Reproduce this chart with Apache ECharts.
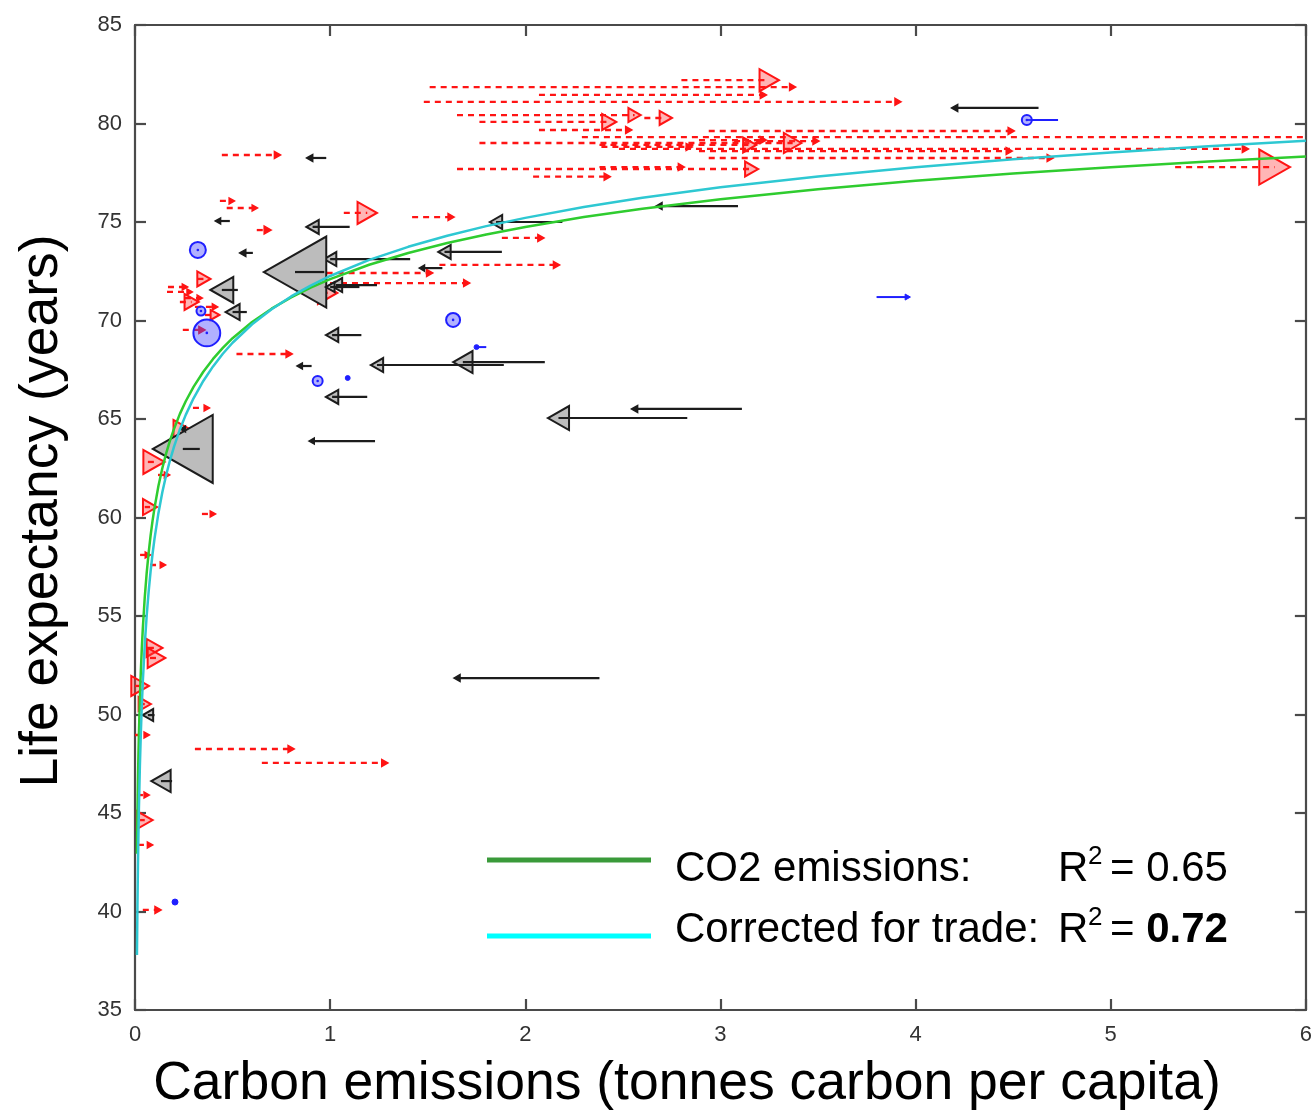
<!DOCTYPE html>
<html><head><meta charset="utf-8">
<script src="https://cdn.jsdelivr.net/npm/echarts@6/dist/echarts.min.js"></script>
<style>html,body{margin:0;padding:0;background:#fff}#c{width:1315px;height:1114px}</style>
</head><body><div id="c"></div>
<script>
// ---- Axis ranges / ticks ----
const xRange = [0, 6], xStep = 1;
const yRange = [35, 85], yStep = 5;

// ---- Net importers (red dashed): [production, consumption, life expectancy, population (M)] ----
const redArrows = [
  [2.80, 3.25, 82.2, 121], [1.51, 3.37, 81.85, 12], [2.07, 3.22, 81.45, 12], [1.48, 3.91, 81.1, 12],
  [1.65, 2.56, 80.43, 49], [2.61, 2.72, 80.28, 49], [1.765, 2.43, 80.08, 64], [2.07, 2.53, 79.67, 12],
  [2.94, 4.49, 79.62, 12], [2.29, 6.1, 79.31, 12], [2.89, 3.22, 79.16, 12], [3.07, 3.49, 79.11, 12],
  [1.765, 3.37, 79.01, 100], [2.38, 3.15, 78.91, 56], [2.39, 2.84, 78.81, 12], [2.48, 5.69, 78.71, 12],
  [2.89, 4.48, 78.6, 12], [2.94, 4.69, 78.25, 12], [1.65, 3.16, 77.69, 56], [2.38, 2.80, 77.79, 12],
  [2.04, 2.42, 77.3, 12], [5.33, 5.84, 77.79, 306], [0.445, 0.73, 78.4, 12], [0.435, 0.496, 76.07, 9],
  [0.47, 0.614, 75.71, 9], [1.07, 1.19, 75.46, 121], [1.42, 1.62, 75.25, 12], [0.624, 0.68, 74.59, 16],
  [1.88, 2.08, 74.19, 12], [1.56, 2.16, 72.82, 12], [0.70, 1.51, 72.41, 12], [0.83, 1.70, 71.9, 12],
  [0.844, 0.987, 71.4, 121], [0.32, 0.353, 72.11, 56], [0.169, 0.256, 71.7, 9], [0.164, 0.28, 71.45, 9],
  [0.23, 0.29, 70.94, 64], [0.256, 0.332, 71.14, 9], [0.307, 0.41, 70.69, 9], [0.358, 0.41, 70.28, 25],
  [0.245, 0.343, 69.52, 12], [0.52, 0.79, 68.3, 12], [0.297, 0.368, 65.56, 9], [0.22, 0.256, 64.29, 169],
  [0.066, 0.097, 62.82, 144], [0.118, 0.164, 62.16, 9], [0.05, 0.077, 60.53, 64], [0.343, 0.399, 60.18, 9],
  [0.026, 0.066, 58.1, 9], [0.077, 0.143, 57.59, 9], [0.066, 0.10, 53.38, 81], [0.077, 0.11, 52.87, 100],
  [0.0, 0.026, 51.45, 100], [0.026, 0.05, 50.53, 49], [0.0, 0.06, 48.96, 9], [0.307, 0.80, 48.25, 12],
  [0.65, 1.28, 47.54, 12], [0.01, 0.06, 45.91, 9], [0.026, 0.05, 44.64, 81], [0.015, 0.077, 43.38, 9],
  [0.04, 0.118, 40.08, 12]
];

// ---- Net exporters (black solid) ----
const blackArrows = [
  [4.63, 4.20, 80.79, 12], [0.98, 0.895, 78.25, 12], [3.09, 2.685, 75.81, 12], [0.486, 0.425, 75.05, 9],
  [2.19, 1.85, 75.0, 49], [1.10, 0.91, 74.75, 49], [0.604, 0.552, 73.43, 12], [1.88, 1.586, 73.48, 49],
  [1.41, 1.0, 73.12, 49], [0.97, 0.82, 72.46, 1260], [1.575, 1.47, 72.66, 9], [1.24, 1.03, 71.8, 49],
  [1.15, 1.0, 71.7, 25], [0.527, 0.445, 71.55, 169], [0.573, 0.50, 70.43, 64], [1.16, 1.01, 69.26, 49],
  [2.10, 1.68, 67.89, 121], [1.89, 1.24, 67.74, 49], [0.905, 0.844, 67.69, 9], [1.19, 1.01, 66.12, 49],
  [3.11, 2.56, 65.51, 12], [2.83, 2.17, 65.05, 144], [1.23, 0.905, 63.88, 6], [0.332, 0.245, 63.48, 1156],
  [2.38, 1.65, 51.85, 12], [0.10, 0.066, 49.97, 36], [0.19, 0.133, 46.62, 121], [0.26, 0.245, 64.49, 6]
];

// ---- Little change (blue) ----
const blueMarks = [
  [0.322, 0.322, 73.58, 64], [0.338, 0.338, 70.48, 20], [0.368, 0.368, 69.37, 180], [1.63, 1.63, 70.03, 49],
  [0.936, 0.936, 66.93, 25], [1.09, 1.09, 67.08, 6], [1.75, 1.80, 68.65, 6], [4.57, 4.73, 80.18, 25],
  [3.80, 3.96, 71.19, 0], [0.205, 0.205, 40.48, 9]
];

// ---- Fitted curves ----
const fitCO2 = [
  [0.01, 42.93], [0.0125, 44.97], [0.015, 46.57], [0.0175, 47.89], [0.02, 49.0], [0.025, 50.8],
  [0.03, 52.22], [0.035, 53.38], [0.04, 54.36], [0.05, 55.95], [0.06, 57.2], [0.07, 58.22],
  [0.08, 59.09], [0.09, 59.84], [0.1, 60.49], [0.12, 61.6], [0.14, 62.5], [0.16, 63.27],
  [0.18, 63.93], [0.2, 64.5], [0.23, 65.26], [0.26, 65.9], [0.3, 66.63], [0.35, 67.4],
  [0.4, 68.05], [0.45, 68.61], [0.5, 69.1], [0.6, 69.92], [0.7, 70.6], [0.8, 71.17],
  [0.9, 71.67], [1, 72.1], [1.2, 72.83], [1.4, 73.43], [1.6, 73.93], [1.8, 74.37],
  [2, 74.75], [2.3, 75.25], [2.6, 75.67], [3, 76.15], [3.5, 76.66], [4, 77.09],
  [4.5, 77.46], [5, 77.78], [5.5, 78.07], [6, 78.33]
];
const fitTrade = [
  [0.01, 37.79], [0.0125, 40.29], [0.015, 42.25], [0.0175, 43.85], [0.02, 45.2], [0.025, 47.38],
  [0.03, 49.09], [0.035, 50.48], [0.04, 51.66], [0.05, 53.55], [0.06, 55.04], [0.07, 56.25],
  [0.08, 57.28], [0.09, 58.16], [0.1, 58.93], [0.12, 60.22], [0.14, 61.28], [0.16, 62.17],
  [0.18, 62.93], [0.2, 63.6], [0.23, 64.47], [0.26, 65.21], [0.3, 66.05], [0.35, 66.93],
  [0.4, 67.67], [0.45, 68.31], [0.5, 68.87], [0.6, 69.81], [0.7, 70.57], [0.8, 71.22],
  [0.9, 71.77], [1, 72.26], [1.2, 73.08], [1.4, 73.74], [1.6, 74.3], [1.8, 74.79],
  [2, 75.21], [2.3, 75.76], [2.6, 76.23], [3, 76.76], [3.5, 77.31], [4, 77.78],
  [4.5, 78.18], [5, 78.53], [5.5, 78.85], [6, 79.13]
];

const legendRows = [
  { label: 'CO2 emissions:', r2: '0.65', bold: false },
  { label: 'Corrected for trade:', r2: '0.72', bold: true }
];

const FONT = '"Liberation Sans", Arial, Helvetica, sans-serif';
const chart = echarts.init(document.getElementById('c'), null, { renderer: 'canvas' });

function triPoints(cx, cy, dir, pop) {
  const h = Math.max(6, 2 * Math.sqrt(pop));
  const w = 0.88 * h;
  return [[cx + dir * w / 2, cy], [cx - dir * w / 2, cy - h / 2], [cx - dir * w / 2, cy + h / 2]];
}

function arrowSeries(data, kind) {
  const isRed = kind === 'red';
  const stroke = isRed ? '#ff1414' : '#1c1c1c';
  const fill = isRed ? 'rgba(255,60,60,0.38)' : '#bcbcbc';
  return {
    type: 'custom', data, z: isRed ? 3 : 4, silent: true,
    encode: { x: [0, 1], y: 2 },
    renderItem: (params, api) => {
      const x0 = api.value(0), x1 = api.value(1), y = api.value(2), pop = api.value(3);
      const cs = params.coordSys;
      const p0 = api.coord([x0, y]);
      let p1 = api.coord([x1, y]);
      const right = cs.x + cs.width;
      let clipped = false;
      if (p1[0] > right) { p1 = [right, p1[1]]; clipped = true; }
      const dir = p1[0] >= p0[0] ? 1 : -1;
      const children = [];
      const small = pop <= 16;
      if (!clipped && !small) {
        children.push({ type: 'polygon', shape: { points: triPoints(p1[0], p1[1], dir, pop) },
          style: { fill: fill, stroke: stroke, lineWidth: 2 } });
      }
      children.push({ type: 'line', shape: { x1: p0[0], y1: p0[1], x2: p1[0], y2: p1[1] },
        style: { stroke: stroke, lineWidth: isRed ? 2.3 : 2.2, lineDash: isRed ? [6, 5] : null } });
      if (!clipped && small) {
        children.push({ type: 'polygon', shape: { points: triPoints(p1[0], p1[1], dir, pop) },
          style: { fill: stroke, stroke: stroke, lineWidth: 1.5 } });
      }
      return { type: 'group', children };
    }
  };
}

const blueSeries = {
  type: 'custom', data: blueMarks, z: 5, silent: true,
  encode: { x: [0, 1], y: 2 },
  renderItem: (params, api) => {
    const x0 = api.value(0), x1 = api.value(1), y = api.value(2), pop = api.value(3);
    const p0 = api.coord([x0, y]), p1 = api.coord([x1, y]);
    const children = [];
    const blue = '#1f1fff';
    if (Math.abs(p1[0] - p0[0]) > 0.5) {
      children.push({ type: 'line', shape: { x1: p0[0], y1: p0[1], x2: p1[0], y2: p1[1] },
        style: { stroke: blue, lineWidth: 2 } });
      if (pop === 0) {
        children.push({ type: 'polygon', shape: { points: triPoints(p1[0], p1[1], 1, 5) },
          style: { fill: blue, stroke: blue, lineWidth: 1 } });
      }
    }
    if (pop > 0) {
      const r = Math.sqrt(pop);
      if (pop <= 10) {
        children.push({ type: 'circle', shape: { cx: p0[0], cy: p0[1], r: r },
          style: { fill: blue, stroke: blue, lineWidth: 1 } });
      } else {
        children.push({ type: 'circle', shape: { cx: p0[0], cy: p0[1], r: r },
          style: { fill: 'rgba(70,70,255,0.42)', stroke: blue, lineWidth: 2 } });
        children.push({ type: 'circle', shape: { cx: p0[0], cy: p0[1], r: 1.3 },
          style: { fill: blue } });
      }
    }
    return { type: 'group', children };
  }
};

const axisLineStyle = { color: '#4a4a4a', width: 2.2 };
const labelStyle = { fontSize: 22, color: '#333', fontFamily: FONT };

function xAx(pos, showLabel) {
  return { type: 'value', min: xRange[0], max: xRange[1], interval: xStep, position: pos,
    axisLine: { show: true, onZero: false, lineStyle: axisLineStyle },
    axisTick: { show: true, inside: true, length: 11, lineStyle: axisLineStyle },
    axisLabel: { show: showLabel, margin: 14, ...labelStyle },
    splitLine: { show: false } };
}
function yAx(pos, showLabel) {
  return { type: 'value', min: yRange[0], max: yRange[1], interval: yStep, position: pos,
    axisLine: { show: true, onZero: false, lineStyle: axisLineStyle },
    axisTick: { show: true, inside: true, length: 11, lineStyle: axisLineStyle },
    axisLabel: { show: showLabel, margin: 13, ...labelStyle },
    splitLine: { show: false } };
}

const graphics = [
  { type: 'text', x: 42, y: 511, rotation: Math.PI / 2,
    style: { text: 'Life expectancy (years)', font: '53.5px ' + FONT, fill: '#000', align: 'center', verticalAlign: 'middle' } },
  { type: 'text', x: 687, y: 1084,
    style: { text: 'Carbon emissions (tonnes carbon per capita)', font: '53.5px ' + FONT, fill: '#000', align: 'center', verticalAlign: 'middle' } }
];
const legendColors = ['#3a9a3a', '#00ffff'];
const legendLineY = [860, 936];
const legendTextY = [869, 930];
legendRows.forEach((row, i) => {
  graphics.push({ type: 'line', shape: { x1: 487, y1: legendLineY[i], x2: 651, y2: legendLineY[i] },
    style: { stroke: legendColors[i], lineWidth: 5 } });
  graphics.push({ type: 'text', x: 675, y: legendTextY[i],
    style: { text: row.label, font: '42px ' + FONT, fill: '#000', verticalAlign: 'middle' } });
  graphics.push({ type: 'text', x: 1058, y: legendTextY[i],
    style: { text: 'R', font: '42px ' + FONT, fill: '#000', verticalAlign: 'middle' } });
  graphics.push({ type: 'text', x: 1088, y: legendTextY[i] - 12,
    style: { text: '2', font: '26px ' + FONT, fill: '#000', verticalAlign: 'middle' } });
  graphics.push({ type: 'text', x: 1110, y: legendTextY[i],
    style: { text: row.bold ? '= {b|' + row.r2 + '}' : '= ' + row.r2, font: '42px ' + FONT, fill: '#000', verticalAlign: 'middle',
      rich: { b: { fontWeight: 'bold', fontSize: 42, fontFamily: FONT, fill: '#000' } } } });
});

chart.setOption({
  animation: false,
  backgroundColor: '#fff',
  grid: { left: 135, right: 7, top: 25, bottom: 104, containLabel: false },
  xAxis: [xAx('bottom', true), xAx('top', false)],
  yAxis: [yAx('left', true), yAx('right', false)],
  series: [
    arrowSeries(redArrows, 'red'),
    arrowSeries(blackArrows, 'black'),
    blueSeries,
    { type: 'line', data: fitCO2, showSymbol: false, smooth: false, z: 6, silent: true,
      lineStyle: { color: '#2fcc2f', width: 2.5 } },
    { type: 'line', data: fitTrade, showSymbol: false, smooth: false, z: 6, silent: true,
      lineStyle: { color: '#2ec8d2', width: 2.5 } }
  ],
  graphic: graphics
});
</script></body></html>
